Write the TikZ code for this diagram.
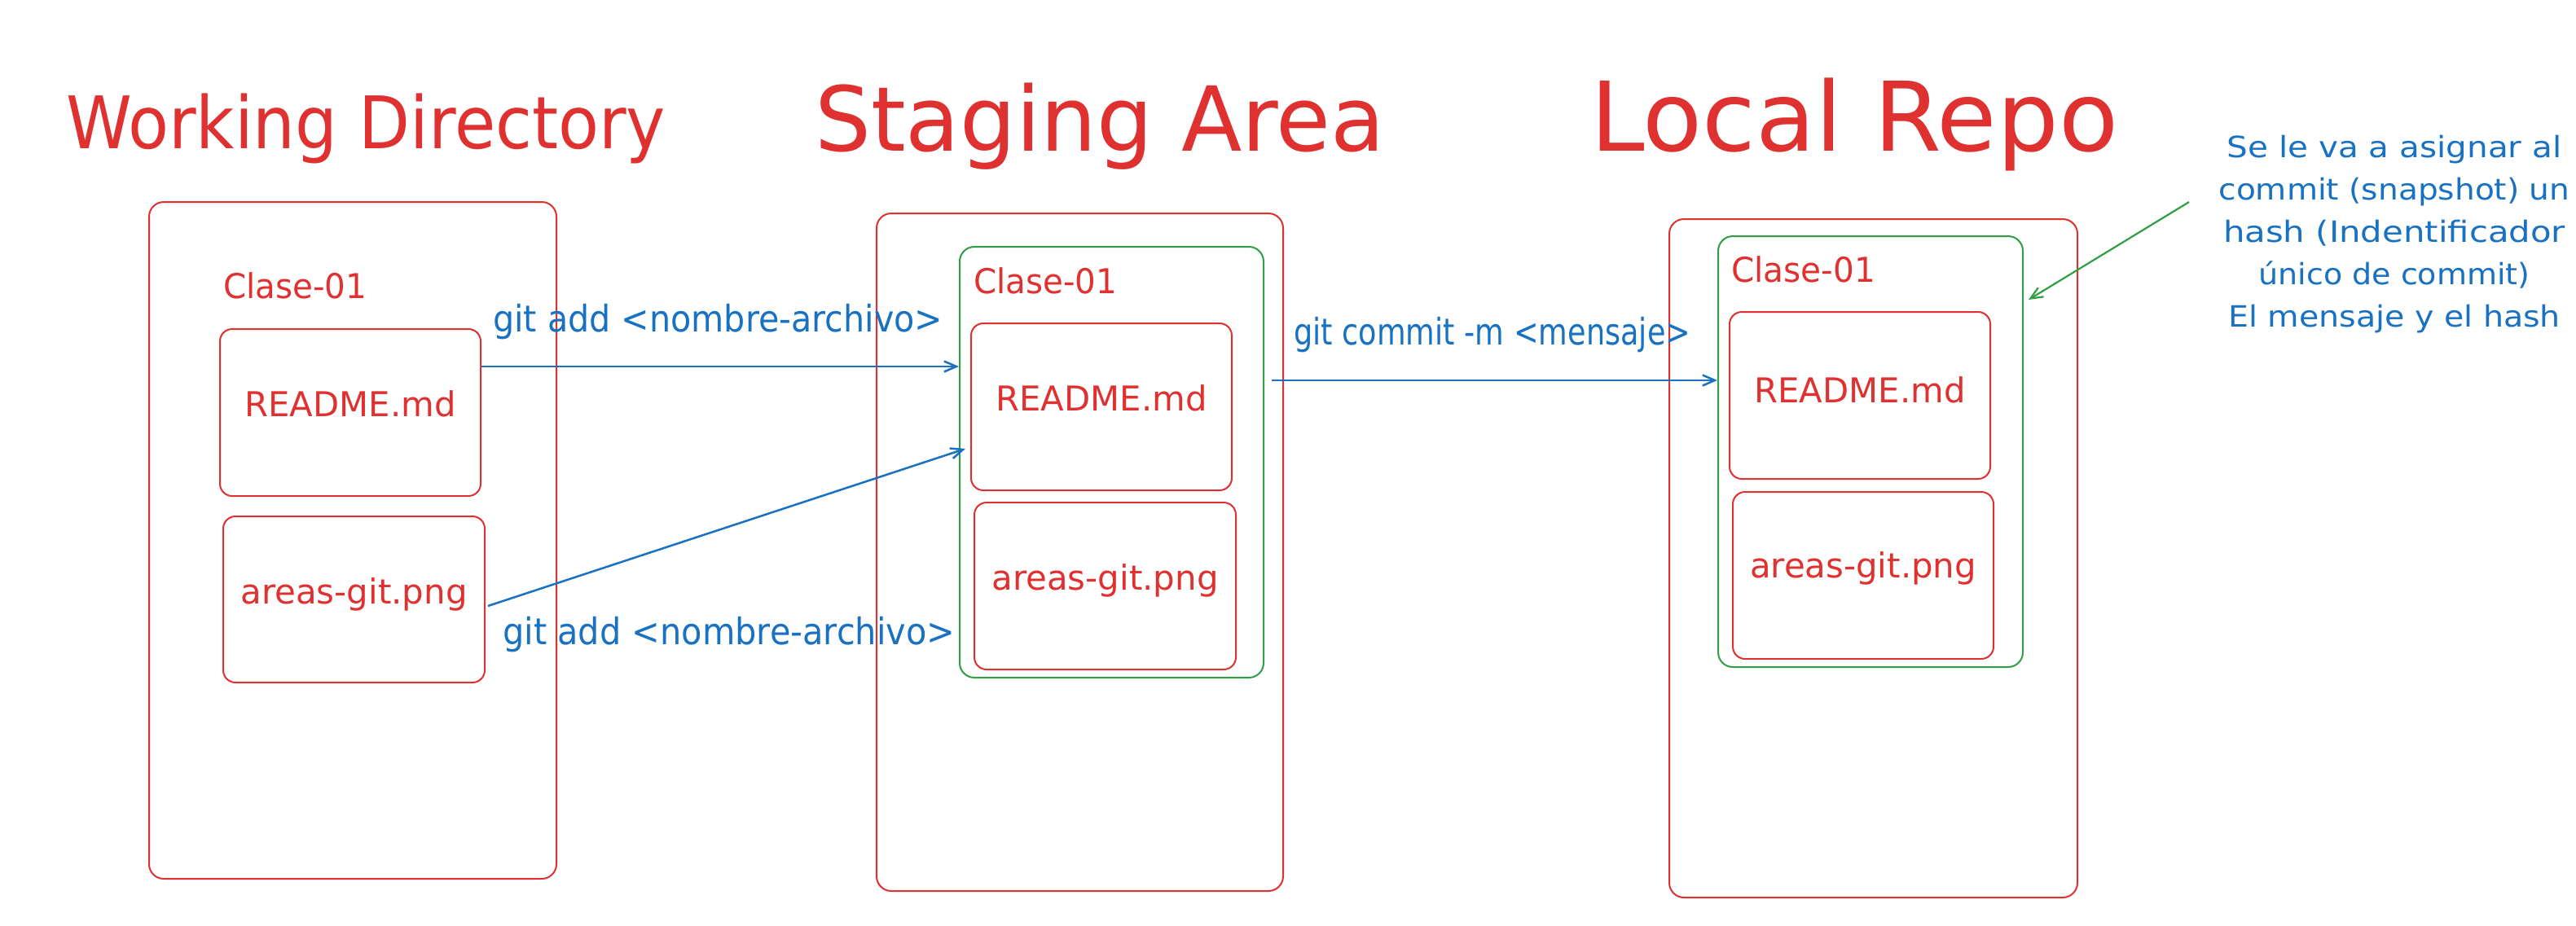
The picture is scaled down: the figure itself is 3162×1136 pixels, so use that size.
\documentclass[tikz,border=0pt]{standalone}
\usepackage{fontspec}
\setmainfont{DejaVu Sans}
\usetikzlibrary{arrows.meta,calc}
\definecolor{exred}{HTML}{E03131}
\definecolor{exblue}{HTML}{1971C2}
\definecolor{exgreen}{HTML}{2F9E44}
\newcommand\fitw[2]{\resizebox{#1pt}{\height}{#2}}
\begin{document}
\begin{tikzpicture}[x=1pt,y=-1pt,
  area/.style={draw=exred, line width=2pt, rounded corners=18pt, anchor=north west, inner sep=0pt},
  folder/.style={draw=exgreen, line width=2pt, rounded corners=18pt, anchor=north west, inner sep=0pt},
  filebox/.style={draw=exred, line width=2pt, rounded corners=15pt, anchor=north west, inner sep=0pt,
    minimum width=320pt, minimum height=205pt, text=exred, font=\fontsize{42}{50}\selectfont, text height=30pt},
  titletext/.style={anchor=base west, inner sep=0pt, text=exred},
  lbl/.style={anchor=base west, inner sep=0pt, text=exblue, font=\fontsize{45}{54}\selectfont},
  cls/.style={anchor=base west, inner sep=0pt, text=exred, font=\fontsize{42}{50}\selectfont},
  flow/.style={draw=exblue, line width=2.5pt, -{Straight Barb[length=15pt,width=13pt]}},
  note/.style={draw=exgreen, line width=2.2pt, -{Straight Barb[length=15pt,width=13pt]}}]
\fill[white] (0,0) rectangle (3162,1136);
\useasboundingbox (0,0) rectangle (3162,1136);

% titles
\node[titletext, font=\fontsize{89}{100}\selectfont] (twd) at (81,182) {\fitw{736}{Working Directory}};
\node[titletext, font=\fontsize{110}{120}\selectfont] (tsa) at (1000,185) {\fitw{700}{Staging Area}};
\node[titletext, font=\fontsize{118}{130}\selectfont] (tlr) at (1952,185) {\fitw{648}{Local Repo}};

% area boxes
\node[area, minimum width=500pt, minimum height=831pt] (wd) at (182,247) {};
\node[area, minimum width=499pt, minimum height=832pt] (sa) at (1075,261) {};
\node[area, minimum width=501pt, minimum height=833pt] (lr) at (2048,268) {};

% folders
\node[folder, minimum width=373pt, minimum height=529pt] (sag) at (1177,302) {};
\node[folder, minimum width=374pt, minimum height=529pt] (lrg) at (2108,289) {};

% folder names
\node[cls] (wdc) at (274,366) {\fitw{176}{Clase-01}};
\node[cls] (sac) at (1195,360) {\fitw{176}{Clase-01}};
\node[cls] (lrc) at (2125,346) {\fitw{177}{Clase-01}};

% files
\node[filebox, text depth=21pt] (wdr) at (269,403) {\fitw{259}{README.md}};
\node[filebox, minimum width=321pt, minimum height=204pt, text depth=20pt] (wda) at (273,633) {\fitw{278}{areas-git.png}};
\node[filebox, text depth=21pt] (sar) at (1191,396) {\fitw{259}{README.md}};
\node[filebox, minimum width=321pt, text depth=20pt] (saa) at (1195,616) {\fitw{278}{areas-git.png}};
\node[filebox, text depth=13pt] (lrr) at (2122,382) {\fitw{259}{README.md}};
\node[filebox, text depth=24pt] (lra) at (2126,603) {\fitw{278}{areas-git.png}};

% connectors
\coordinate (a1s) at ($(wdr.east)+(0,-56.5)$);
\draw[flow] (a1s) -- (sag.west |- a1s);
\draw[flow] ($(wda.east)+(3,8)$) -- ($(sag.west)+(8,-16.5)$);
\coordinate (a3s) at ($(sag.east)+(9,-100.5)$);
\draw[flow] (a3s) -- (lrg.west |- a3s);

% labels
\node[lbl] (l1) at (605,407) {\fitw{552}{git add <nombre-archivo>}};
\node[lbl] (l2) at (617,791) {\fitw{555}{git add <nombre-archivo>}};
\node[lbl] (l3) at (1588,423) {\fitw{487}{git commit -m <mensaje>}};

% annotation
\node[anchor=base, inner sep=0pt, text=exblue, font=\fontsize{36}{52}\selectfont] (ann) at (2939,193)
  {\begin{tabular}[t]{@{}c@{}}
   \fitw{411}{Se le va a asignar al}\\
   \fitw{431}{commit (snapshot) un}\\
   \fitw{420}{hash (Indentificador}\\
   \fitw{333}{único de commit)}\\
   \fitw{408}{El mensaje y el hash}
   \end{tabular}};
\coordinate (anntail) at (2687,248);
\draw[note] (anntail) -- ($(lrg.east)+(6,-186.5)$);
\end{tikzpicture}
\end{document}
